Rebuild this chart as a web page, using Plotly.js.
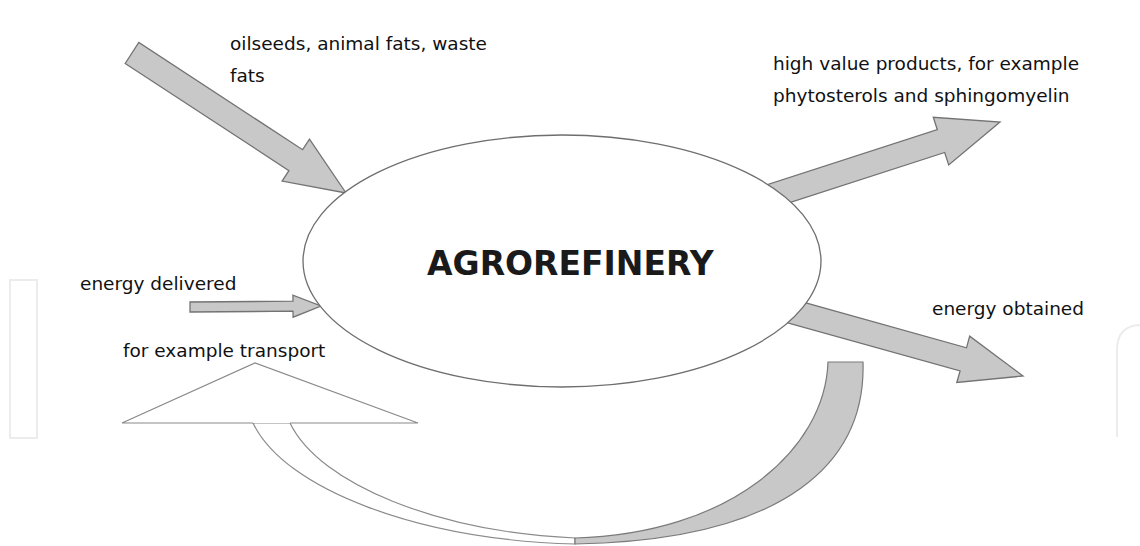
<!DOCTYPE html>
<html>
<head>
<meta charset="utf-8">
<script src="https://cdn.plot.ly/plotly-3.0.1.min.js"></script>
<style>html,body{margin:0;padding:0;background:#fff;}#chart{width:1140px;height:546px;}</style>
</head>
<body>
<div id="chart"></div>
<script>
// ---- diagram content ----
const centreLabel = "AGROREFINERY";
const labelTexts = [
  "oilseeds, animal fats, waste",
  "fats",
  "high value products, for example",
  "phytosterols and sphingomyelin",
  "energy delivered",
  "for example transport",
  "energy obtained"
];
const labelX = [228, 228, 771, 771, 78, 121, 930];
const labelY = [43, 75, 63, 95, 283, 350, 308];

// straight block arrows: tail -> tip (diagram units)
const arrowTailX = [132, 765, 190, 790];
const arrowTailY = [53, 198, 307, 311];
const arrowTipX  = [346, 1000, 321, 1023];
const arrowTipY  = [193, 122, 306, 376];
const arrowShaftHalf = [12.5, 12, 5, 12];
const arrowHeadHalf  = [25, 25, 11, 24];
const arrowHeadLen   = [60, 62, 28, 62];

// central process ellipse
const ellipseCx = 562, ellipseCy = 261, ellipseRx = 259, ellipseRy = 126;

// curved return arrow (outer / inner edges as cubic segments)
const loopOuter = [[253,423],[285,490],[420,540],[575,544],[790,540],[866,460],[863,362]];
const loopInner = [[290,423],[320,485],[440,532],[575,538],[730,534],[825,450],[828,362]];
const loopHead  = [[253,423],[122,423],[255,363],[418,423],[290,423]];

// ---- build shapes ----
const arrowFill = "#c8c8c8", arrowLine = "#737373";
function arrowPath(i){
  const tx=arrowTailX[i], ty=arrowTailY[i], px=arrowTipX[i], py=arrowTipY[i];
  const dx=px-tx, dy=py-ty, len=Math.hypot(dx,dy);
  const ux=dx/len, uy=dy/len, nx=-uy, ny=ux;
  const s=arrowShaftHalf[i], h=arrowHeadHalf[i], L=arrowHeadLen[i];
  const bx=px-ux*L, by=py-uy*L;
  const pts=[[tx+nx*s,ty+ny*s],[bx+nx*s,by+ny*s],[bx+nx*h,by+ny*h],[px,py],
             [bx-nx*h,by-ny*h],[bx-nx*s,by-ny*s],[tx-nx*s,ty-ny*s]];
  return "M"+pts.map(p=>p[0].toFixed(1)+","+p[1].toFixed(1)).join(" L")+" Z";
}
function pt(p){return p[0]+","+p[1];}
const shapes=[];
// faint background marks
shapes.push({type:"rect",xref:"x",yref:"y",x0:10,x1:37,y0:280,y1:438,line:{color:"#ececec",width:2},fillcolor:"rgba(0,0,0,0)"});
shapes.push({type:"path",xref:"x",yref:"y",path:"M1117,437 L1117,350 Q1117,325 1142,325",line:{color:"#ececec",width:2}});

for(let i=0;i<arrowTailX.length;i++){
  shapes.push({type:"path",xref:"x",yref:"y",path:arrowPath(i),fillcolor:arrowFill,line:{color:arrowLine,width:1.3}});
}
// loop: left (white) half
const o=loopOuter, n=loopInner;
shapes.push({type:"path",xref:"x",yref:"y",
  path:"M"+pt(o[0])+" C"+pt(o[1])+" "+pt(o[2])+" "+pt(o[3])+" L"+pt(n[3])+" C"+pt(n[2])+" "+pt(n[1])+" "+pt(n[0])+" Z",
  fillcolor:"#ffffff",line:{color:"#8a8a8a",width:1.2}});
// loop: right (shaded) half
shapes.push({type:"path",xref:"x",yref:"y",
  path:"M"+pt(o[3])+" C"+pt(o[4])+" "+pt(o[5])+" "+pt(o[6])+" L"+pt(n[6])+" C"+pt(n[5])+" "+pt(n[4])+" "+pt(n[3])+" Z",
  fillcolor:arrowFill,line:{color:"#7a7a7a",width:1.2}});
// loop head
shapes.push({type:"path",xref:"x",yref:"y",
  path:"M"+loopHead.map(pt).join(" L"),
  fillcolor:"#ffffff",line:{color:"#8a8a8a",width:1.2}});
// ellipse
shapes.push({type:"circle",xref:"x",yref:"y",
  x0:ellipseCx-ellipseRx,x1:ellipseCx+ellipseRx,y0:ellipseCy-ellipseRy,y1:ellipseCy+ellipseRy,
  fillcolor:"#ffffff",line:{color:"#6e6e6e",width:1.3}});

const annotations = labelTexts.map((t,i)=>({
  text:t,x:labelX[i],y:labelY[i],xref:"x",yref:"y",xanchor:"left",yanchor:"middle",showarrow:false,
  font:{family:"DejaVu Sans",size:18.5,color:"#111111"}
}));
annotations.push({text:"<b>"+centreLabel+"</b>",x:571,y:263,xref:"x",yref:"y",xanchor:"center",yanchor:"middle",
  showarrow:false,font:{family:"DejaVu Sans",size:33,color:"#1a1a1a"}});

const layout={
  width:1140,height:546,margin:{l:0,r:0,t:0,b:0},
  paper_bgcolor:"#ffffff",plot_bgcolor:"#ffffff",showlegend:false,
  xaxis:{range:[0,1140],visible:false,fixedrange:true},
  yaxis:{range:[546,0],visible:false,fixedrange:true},
  shapes:shapes,annotations:annotations
};
Plotly.newPlot("chart",[{x:[],y:[],type:"scatter",mode:"markers",hoverinfo:"skip"}],layout,{staticPlot:true,displayModeBar:false});
</script>
</body>
</html>
